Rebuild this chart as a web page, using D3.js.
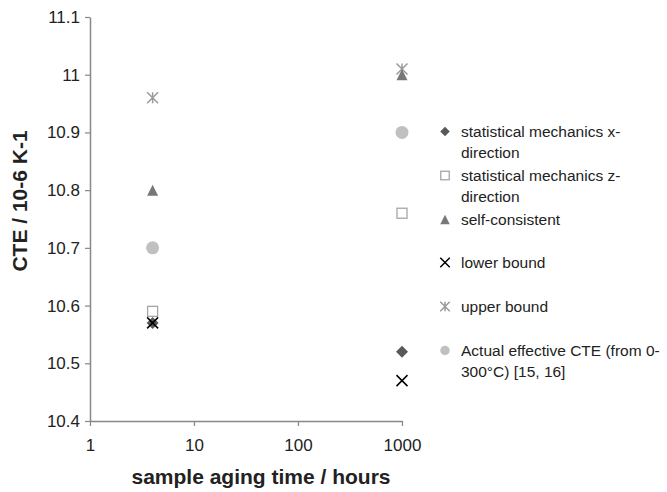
<!DOCTYPE html>
<html>
<head>
<meta charset="utf-8">
<script src="https://cdn.jsdelivr.net/npm/d3@7"></script>
<style>
  body { margin: 0; background: #fff; }
  text { font-family: "Liberation Sans", Arial, sans-serif; }
</style>
</head>
<body>
<div id="chart"></div>
<script>
// sample aging time (hours)
const hours = [4, 1000];

const statMechX = [10.57, 10.52];
const statMechZ = [10.59, 10.76];
const selfConsistent = [10.80, 11.00];
const lowerBound = [10.57, 10.47];
const upperBound = [10.96, 11.01];
const actualCTE = [10.70, 10.90];

const yTicks = [10.4, 10.5, 10.6, 10.7, 10.8, 10.9, 11, 11.1];
const xTicks = [1, 10, 100, 1000];

const series = [
  { name: ['statistical mechanics x-', 'direction'], values: statMechX, shape: 'diamond', color: '#595959' },
  { name: ['statistical mechanics z-', 'direction'], values: statMechZ, shape: 'square', color: '#a6a6a6' },
  { name: ['self-consistent'], values: selfConsistent, shape: 'triangle', color: '#777777' },
  { name: ['lower bound'], values: lowerBound, shape: 'x', color: '#000000' },
  { name: ['upper bound'], values: upperBound, shape: 'star', color: '#9a9a9a' },
  { name: ['Actual effective CTE (from 0-', '300°C) [15, 16]'], values: actualCTE, shape: 'circle', color: '#c0c0c0' }
];

const width = 667, height = 492;
const margin = { top: 17, left: 90, right: 265, bottom: 71 };

const svg = d3.select('#chart').append('svg')
  .attr('width', width)
  .attr('height', height);

const x = d3.scaleLog().domain([1, 1000]).range([margin.left, width - margin.right]);
const y = d3.scaleLinear().domain([10.4, 11.1]).range([height - margin.bottom, margin.top]);

// axes
const yAxis = svg.append('g')
  .attr('transform', `translate(${margin.left},0)`)
  .call(d3.axisLeft(y).tickValues(yTicks).tickSize(5).tickSizeOuter(0).tickFormat(d3.format('')));
const xAxis = svg.append('g')
  .attr('transform', `translate(0,${height - margin.bottom})`)
  .call(d3.axisBottom(x).tickValues(xTicks).tickSize(5).tickSizeOuter(0).tickFormat(d3.format('')));

[yAxis, xAxis].forEach(a => {
  a.select('.domain').attr('stroke', '#888').attr('stroke-width', 1.5);
  a.selectAll('.tick line').attr('stroke', '#888').attr('stroke-width', 1.2);
  a.selectAll('.tick text').attr('fill', '#222').style('font-size', '17px');
});
yAxis.selectAll('.tick text').attr('x', -10);
xAxis.selectAll('.tick text').attr('y', 18);

// axis titles
svg.append('text')
  .attr('transform', 'translate(27,201) rotate(-90)')
  .attr('text-anchor', 'middle')
  .style('font-size', '21px').style('font-weight', 'bold').attr('fill', '#222')
  .text('CTE / 10-6 K-1');
svg.append('text')
  .attr('x', 261)
  .attr('y', 484)
  .attr('text-anchor', 'middle')
  .style('font-size', '21px').style('font-weight', 'bold').attr('fill', '#222')
  .text('sample aging time / hours');

function drawMarker(g, shape, color, s) {
  const h = s / 2;
  if (shape === 'diamond') {
    g.append('path').attr('d', `M0,${-h}L${h},0L0,${h}L${-h},0Z`).attr('fill', color);
  } else if (shape === 'square') {
    g.append('rect').attr('x', -h + 0.5).attr('y', -h + 0.5).attr('width', s - 1).attr('height', s - 1)
      .attr('fill', '#fff').attr('stroke', color).attr('stroke-width', 1.3);
  } else if (shape === 'triangle') {
    g.append('path').attr('d', `M0,${-h}L${h},${h}L${-h},${h}Z`).attr('fill', color);
  } else if (shape === 'x') {
    g.append('path').attr('d', `M${-h},${-h}L${h},${h}M${-h},${h}L${h},${-h}`)
      .attr('stroke', color).attr('stroke-width', 1.5);
  } else if (shape === 'star') {
    g.append('path').attr('d', `M${-h},${-h}L${h},${h}M${-h},${h}L${h},${-h}M0,${-h}L0,${h}`)
      .attr('stroke', color).attr('stroke-width', 1.5);
  } else if (shape === 'circle') {
    g.append('circle').attr('r', h).attr('fill', color);
  }
}

// markers (order chosen so overlaps look like the original)
const drawOrder = [5, 4, 2, 1, 0, 3];
drawOrder.forEach(i => {
  const s = series[i];
  hours.forEach((hr, j) => {
    const g = svg.append('g').attr('transform', `translate(${x(hr)},${y(s.values[j])})`);
    const size = s.shape === 'circle' ? 13 : (s.shape === 'diamond' ? 12 : 11);
    drawMarker(g, s.shape, s.color, size);
  });
});

// legend
const legendRows = [137, 181, 225, 268, 312, 356];
series.forEach((s, i) => {
  const g = svg.append('g').attr('transform', `translate(445,${legendRows[i] - 5.5})`);
  drawMarker(g, s.shape, s.color, 9.5);
  s.name.forEach((line, k) => {
    svg.append('text')
      .attr('x', 461).attr('y', legendRows[i] + k * 21)
      .style('font-size', '15.5px').attr('fill', '#222')
      .text(line);
  });
});
</script>
</body>
</html>
